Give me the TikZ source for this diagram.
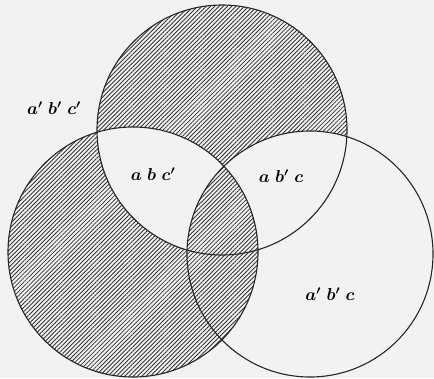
\documentclass[tikz,border=0pt]{standalone}
\usetikzlibrary{patterns.meta}
\tikzset{
  vcirc/.style={draw=black!85, line width=1.1pt},
  hatch/.style={pattern={Lines[angle=45, distance=3pt, line width=0.85pt]},
                pattern color=black!80},
  blank/.style={fill=bgcol},
  lbl/.style={font=\fontsize{17}{20}\selectfont\boldmath, inner sep=0},
}
\colorlet{bgcol}{black!5}
\newcommand{\gp}{\mkern5mu}

\begin{document}
\begin{tikzpicture}[x=1pt, y=-1pt]
    % pixel coordinates, origin top left
    \fill[bgcol] (0,0) rectangle (434,378);
    \useasboundingbox (0,0) rectangle (434,378);

    % === circle centres ===
    \coordinate (A) at (222,130);  % top
    \coordinate (B) at (133,252);  % left
    \coordinate (C) at (310,254);  % right
    \def\ra{125}
    \def\rb{125}
    \def\rc{123}

    % === shading ===
    \path[hatch] (A) circle[radius=\ra];
    \path[hatch] (B) circle[radius=\rb];
    \begin{scope}
      \clip (A) circle[radius=\ra];
      \path[blank] (B) circle[radius=\rb];
      \path[blank] (C) circle[radius=\rc];
      \clip (B) circle[radius=\rb];
      \path[hatch] (C) circle[radius=\rc];
    \end{scope}

    % === outlines ===
    \path[vcirc] (A) circle[radius=\ra];
    \path[vcirc] (B) circle[radius=\rb];
    \path[vcirc] (C) circle[radius=\rc];

    % === labels ===
    \node[lbl] (nnn) at (54,108)  {$a'\gp b'\gp c'$};
    \node[lbl] (abn) at (153,174) {$a\gp b\gp c'$};
    \node[lbl] (anc) at (281,176) {$a\gp b'\gp c$};
    \node[lbl] (nnc) at (330,294) {$a'\gp b'\gp c$};
\end{tikzpicture}
\end{document}
